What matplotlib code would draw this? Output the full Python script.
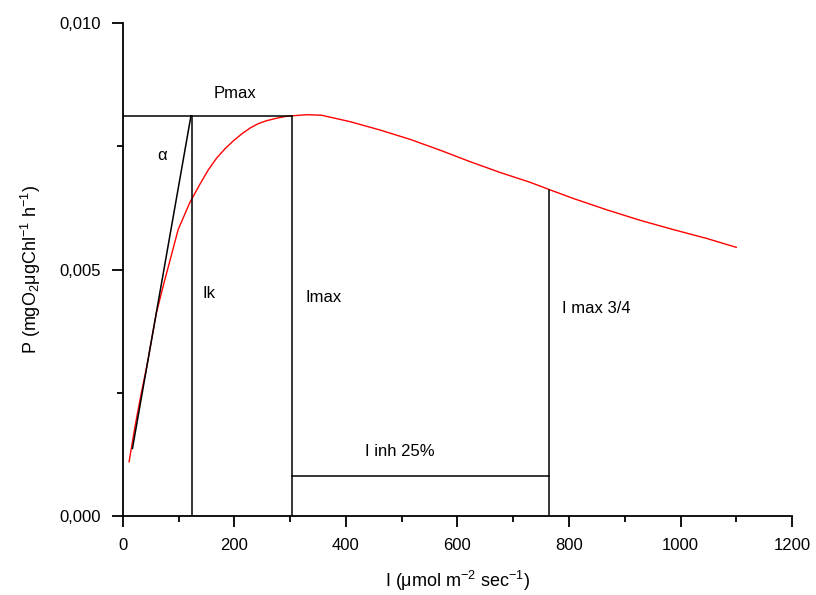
import numpy as np
import matplotlib
matplotlib.use('Agg')
from matplotlib import pyplot as plt
from matplotlib.ticker import MultipleLocator, FuncFormatter

plt.rcParams['font.family'] = ['Liberation Sans', 'DejaVu Sans']
plt.rcParams['mathtext.fontset'] = 'custom'
plt.rcParams['mathtext.rm'] = 'Liberation Sans'
plt.rcParams['mathtext.it'] = 'Liberation Sans'

# red P-I curve
light = [11, 21, 33, 43, 52, 60, 72, 84, 99, 120, 138, 153, 168, 183, 198,
         213, 228, 243, 258, 276, 294, 330, 356, 407, 461, 515, 569, 622,
         676, 730, 765, 808, 868, 927, 987, 1047, 1100]
prod = [0.00110, 0.00178, 0.00250, 0.00305, 0.00362, 0.00412, 0.00466,
        0.00517, 0.00581, 0.00636, 0.00673, 0.00702, 0.00726, 0.00745,
        0.00761, 0.00775, 0.00787, 0.00796, 0.00802, 0.00807, 0.00811,
        0.00814, 0.00813, 0.00800, 0.00783, 0.00764, 0.00742, 0.00719,
        0.00697, 0.00677, 0.00662, 0.00644, 0.00621, 0.00600, 0.00581,
        0.00563, 0.00545]

# construction lines
alpha_x = [17, 122]
alpha_y = [0.00137, 0.00812]
pmax = 0.00812
ik = 123
imax = 304
imax34 = 765
p34 = 0.00662
inh_y = 0.00082

fig = plt.figure(figsize=(8.16, 5.95), dpi=100)
ax = fig.add_axes([0.1507, 0.1328, 0.8199, 0.8285])

ax.plot(light, prod, color='red', lw=1.0)
ax.plot(alpha_x, alpha_y, color='black', lw=1.1)
ax.plot([0, imax], [pmax, pmax], color='black', lw=1.1)
ax.plot([ik, ik], [0, pmax], color='black', lw=1.1)
ax.plot([imax, imax], [0, pmax], color='black', lw=1.1)
ax.plot([imax34, imax34], [0, p34], color='black', lw=1.1)
ax.plot([imax, imax34], [inh_y, inh_y], color='black', lw=1.1)

fs = 12
ax.text(201, 0.00858, 'Pmax', fontsize=fs, ha='center', va='center')
ax.text(70, 0.00732, 'α', fontsize=fs, ha='center', va='center')
ax.text(142, 0.00452, 'Ik', fontsize=fs, ha='left', va='center')
ax.text(328, 0.00444, 'Imax', fontsize=fs, ha='left', va='center')
ax.text(787, 0.00421, 'I max 3/4', fontsize=fs, ha='left', va='center')
ax.text(434, 0.00130, 'I inh 25%', fontsize=fs, ha='left', va='center')

ax.set_xlim(0, 1200)
ax.set_ylim(0, 0.010)
ax.spines['top'].set_visible(False)
ax.spines['right'].set_visible(False)
for s in ('left', 'bottom'):
    ax.spines[s].set_linewidth(1.3)

ax.xaxis.set_major_locator(MultipleLocator(200))
ax.xaxis.set_minor_locator(MultipleLocator(100))
ax.yaxis.set_major_locator(MultipleLocator(0.005))
ax.yaxis.set_minor_locator(MultipleLocator(0.0025))
ax.yaxis.set_major_formatter(FuncFormatter(lambda v, p: ('%.3f' % v).replace('.', ',')))
ax.tick_params(which='major', direction='out', length=8, width=1.3, labelsize=12, pad=8)
ax.tick_params(which='minor', direction='out', length=4, width=1.3)

ax.set_xlabel(r'I ($\mathregular{\mu}$mol m$\mathregular{^{-2}}$ sec$\mathregular{^{-1}}$)', fontsize=13, labelpad=11)
ax.set_ylabel(r'P (mgO$\mathregular{_2}$$\mathregular{\mu}$gChl$\mathregular{^{-1}}$ h$\mathregular{^{-1}}$)', fontsize=13, labelpad=12)

fig.savefig('out.png', dpi=100)
